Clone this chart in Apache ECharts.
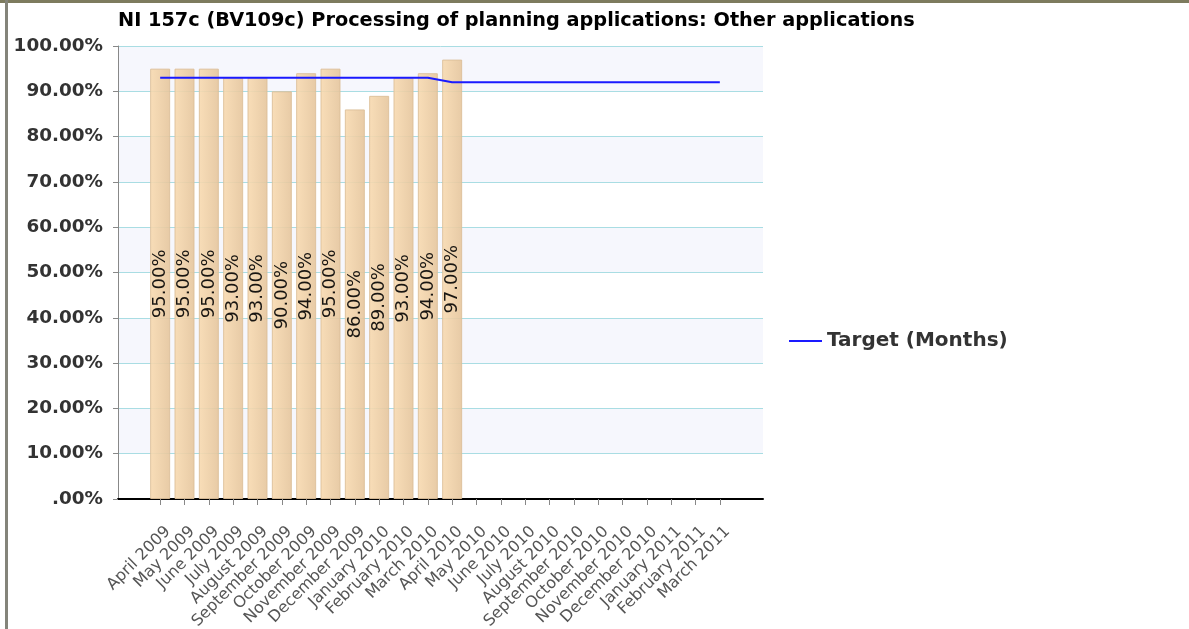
<!DOCTYPE html>
<html>
<head>
<meta charset="utf-8">
<title>NI 157c</title>
<script src="https://cdn.jsdelivr.net/npm/echarts@6/dist/echarts.min.js"></script>
<style>
    html, body { margin: 0; padding: 0; background: #fff; }
    #chart { width: 1189px; height: 629px; }
</style>
</head>
<body>
<div id="chart"></div>
<script>
// months on the x axis
var months = ['April 2009', 'May 2009', 'June 2009', 'July 2009', 'August 2009', 'September 2009',
    'October 2009', 'November 2009', 'December 2009', 'January 2010', 'February 2010', 'March 2010',
    'April 2010', 'May 2010', 'June 2010', 'July 2010', 'August 2010', 'September 2010',
    'October 2010', 'November 2010', 'December 2010', 'January 2011', 'February 2011', 'March 2011'];
// actual values (%), only first 13 months reported
var actual = [95, 95, 95, 93, 93, 90, 94, 95, 86, 89, 93, 94, 97,
    null, null, null, null, null, null, null, null, null, null, null];
// target line (%)
var target = [93, 93, 93, 93, 93, 93, 93, 93, 93, 93, 93, 93,
    92, 92, 92, 92, 92, 92, 92, 92, 92, 92, 92, 92];

var chart = {
    init(){
        this.myChart = echarts.init(document.getElementById('chart'));
        this.draw();
    },
    pct(v){
        return v === 0 ? '.00%' : v.toFixed(2) + '%';
    },
    draw(){
        var _this = this;
        var option = {
            animation: false,
            backgroundColor: '#ffffff',
            title: {
                text: 'NI 157c (BV109c) Processing of planning applications: Other applications',
                left: 113,
                top: 6,
                textStyle: { fontFamily: 'DejaVu Sans', fontWeight: 'bold', fontSize: 19.3, color: '#000' }
            },
            legend: {
                data: [{ name: 'Target (Months)', icon: 'rect' }],
                orient: 'vertical',
                left: 784,
                top: 326,
                itemWidth: 33,
                itemHeight: 2,
                textStyle: { fontFamily: 'DejaVu Sans', fontWeight: 'bold', fontSize: 20, color: '#333' }
            },
            graphic: [
                { type: 'rect', shape: { x: 0, y: 0, width: 1189, height: 3 }, style: { fill: '#7d7b5e' } },
                { type: 'rect', shape: { x: 5, y: 0, width: 3, height: 629 }, style: { fill: '#84847a' } }
            ],
            grid: [
                // background grid with y axis and the black base line
                { left: 118, right: 426, top: 46, bottom: 130, containLabel: false, outerBoundsMode: 'none' },
                // data grid, inset so the months sit like the original
                { left: 148, right: 457, top: 46, bottom: 130, containLabel: false, outerBoundsMode: 'none' }
            ],
            xAxis: [
                {
                    type: 'value', gridIndex: 0, min: 0, max: 1,
                    axisLine: { show: true, lineStyle: { color: '#000', width: 2 } },
                    axisTick: { show: false }, axisLabel: { show: false }, splitLine: { show: false }
                },
                {
                    type: 'category', gridIndex: 1, data: months, boundaryGap: true,
                    axisLine: { show: false },
                    axisTick: { show: true, alignWithLabel: true, length: 6, lineStyle: { color: '#888' } },
                    axisLabel: {
                        interval: 0, rotate: 45, margin: 38,
                        padding: [0, -11, 0, 0],
                        fontFamily: 'DejaVu Sans', fontSize: 16, color: '#555'
                    }
                }
            ],
            yAxis: [
                {
                    type: 'value', gridIndex: 0, min: 0, max: 100, interval: 10,
                    axisLine: { show: true, lineStyle: { color: '#888', width: 1 } },
                    axisTick: { show: true, length: 5, lineStyle: { color: '#888' } },
                    axisLabel: {
                        margin: 15,
                        formatter: function (v) { return _this.pct(v); },
                        fontFamily: 'DejaVu Sans', fontWeight: 'bold', fontSize: 18.4, color: '#333'
                    },
                    splitLine: { show: true, lineStyle: { color: '#a9dde3', width: 1 } },
                    splitArea: { show: true, areaStyle: { color: ['#ffffff', '#f6f7fd'] } }
                },
                {
                    type: 'value', gridIndex: 1, min: 0, max: 100, show: false
                }
            ],
            series: [
                {
                    name: 'Actual',
                    type: 'bar',
                    xAxisIndex: 1, yAxisIndex: 1,
                    data: actual,
                    barWidth: 20,
                    itemStyle: {
                        color: new echarts.graphic.LinearGradient(0, 0, 1, 0, [
                            { offset: 0, color: '#f8dab0' },
                            { offset: 1, color: '#e5c59c' }
                        ]),
                        borderColor: '#dcbf99',
                        borderWidth: 1,
                        opacity: 0.9
                    },
                    label: {
                        show: true,
                        position: 'inside',
                        rotate: 90,
                        formatter: function (p) { return p.value.toFixed(2) + '%'; },
                        fontFamily: 'DejaVu Sans', fontSize: 18, color: '#000'
                    }
                },
                {
                    name: 'Target (Months)',
                    type: 'line',
                    xAxisIndex: 1, yAxisIndex: 1,
                    data: target,
                    symbol: 'none',
                    lineStyle: { color: '#1a1aff', width: 2 },
                    itemStyle: { color: '#1a1aff' },
                    z: 5
                }
            ]
        };
        this.myChart.setOption(option);
    }
};
chart.init();
</script>
</body>
</html>
